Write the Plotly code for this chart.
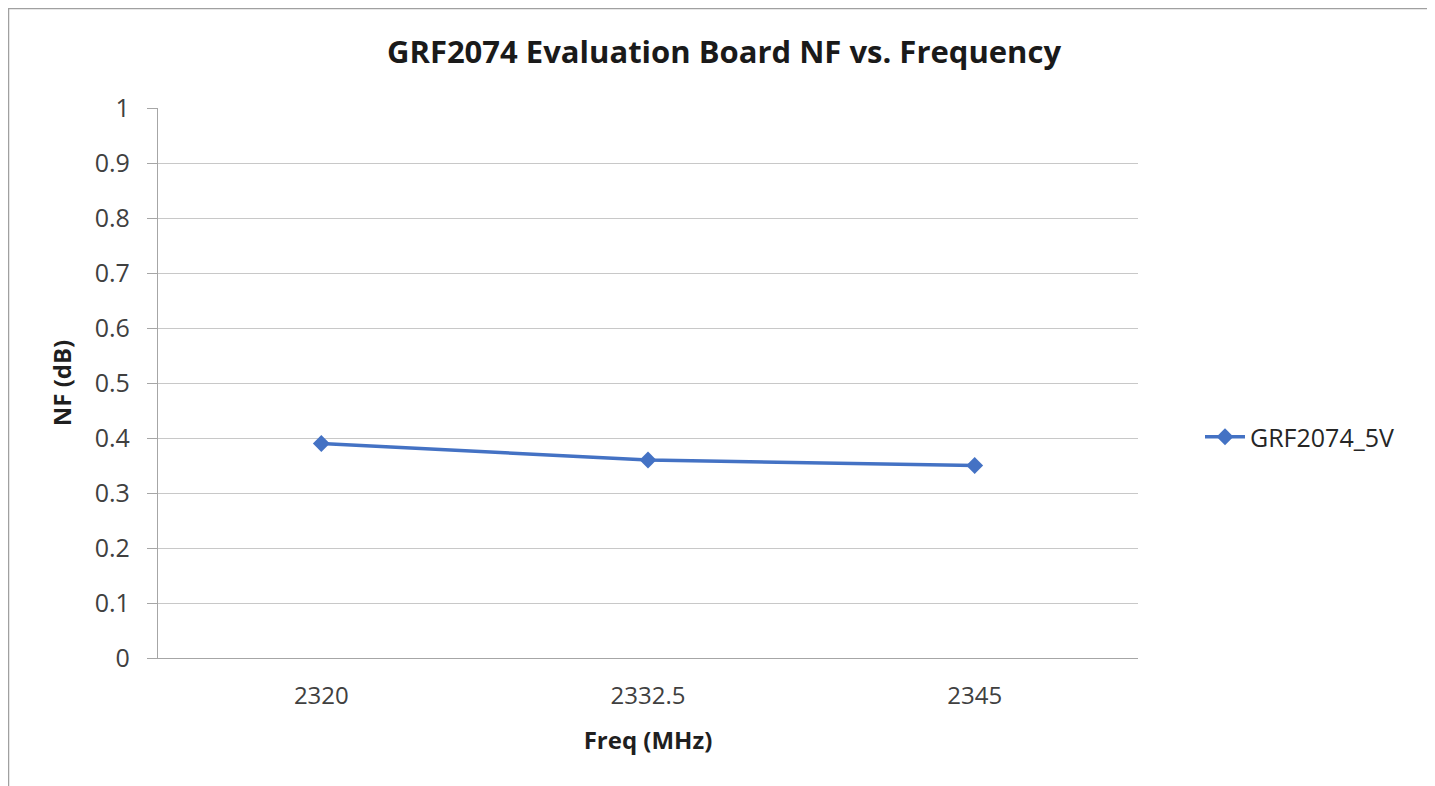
import plotly.graph_objects as go

categories = ["2320", "2332.5", "2345"]
nf_values = [0.39, 0.36, 0.35]
series_name = "GRF2074_5V"
y_ticks = [0, 0.1, 0.2, 0.3, 0.4, 0.5, 0.6, 0.7, 0.8, 0.9, 1]
y_tick_text = ["0", "0.1", "0.2", "0.3", "0.4", "0.5", "0.6", "0.7", "0.8", "0.9", "1"]

# page has an 8px body margin; figure coordinates are page coords - 8
OFF = 8
W, H = 1435 - OFF, 786 - OFF
L, R, T, B = 158 - OFF, 1138 - OFF, 108 - OFF, 658 - OFF
FONT = "Open Sans"
BLUE = "#4472C4"

fig = go.Figure()
fig.add_trace(go.Scatter(
    x=categories, y=nf_values, mode="lines+markers", name=series_name,
    line=dict(color=BLUE, width=3.5),
    marker=dict(symbol="diamond", size=13, color=BLUE),
))

pw, ph = R - L, B - T
def px_x(v):  # page x -> paper
    return (v - OFF - L) / pw
def px_y(v):  # page y -> paper
    return (B - (v - OFF)) / ph

fig.update_layout(
    width=W, height=H,
    margin=dict(l=L, r=W - R, t=T, b=H - B, pad=0),
    paper_bgcolor="white", plot_bgcolor="white",
    font=dict(family=FONT, size=24, color="#404040"),
    title=dict(text="<b>GRF2074 Evaluation Board NF vs. Frequency</b>",
               x=(724 - OFF) / W, xanchor="center", y=1 - (52 - OFF) / H, yanchor="middle",
               font=dict(family=FONT, size=31, color="#1a1a1a")),
    xaxis=dict(
        type="category", range=[-0.5, 2.5], showgrid=False,
        showline=True, linecolor="#a6a6a6", linewidth=1.3,
        ticks="", ticklabelstandoff=16,
        tickfont=dict(size=24, color="#404040"),
        title=dict(text="<b>Freq (MHz)</b>", font=dict(size=24, color="#1f1f1f"), standoff=22),
        fixedrange=True,
    ),
    yaxis=dict(
        range=[0, 1], tickvals=y_ticks, ticktext=y_tick_text,
        showgrid=True, gridcolor="#c8c8c8", gridwidth=1.3,
        showline=True, linecolor="#a6a6a6", linewidth=1.3,
        ticks="outside", ticklen=10, tickcolor="#a6a6a6", tickwidth=1.3,
        ticklabelstandoff=12,
        tickfont=dict(size=25, color="#404040"),
        zeroline=False,
        title=dict(text="<b>NF (dB)</b>", font=dict(size=24, color="#1f1f1f"), standoff=16),
        fixedrange=True,
    ),
    showlegend=True,
    legend=dict(x=px_x(1200), y=px_y(437), xanchor="left", yanchor="middle",
                font=dict(size=25, color="#262626"), bgcolor="rgba(0,0,0,0)",
                itemwidth=40),
)

# chart border (top and left visible; right/bottom cropped)
fig.add_shape(type="line", xref="paper", yref="paper",
              x0=px_x(8), x1=px_x(1450), y0=px_y(8.5), y1=px_y(8.5),
              line=dict(color="#a0a0a0", width=1.5))
fig.add_shape(type="line", xref="paper", yref="paper",
              x0=px_x(8.5), x1=px_x(8.5), y0=px_y(8), y1=px_y(800),
              line=dict(color="#a0a0a0", width=1.5))

fig.write_html("out.html")
